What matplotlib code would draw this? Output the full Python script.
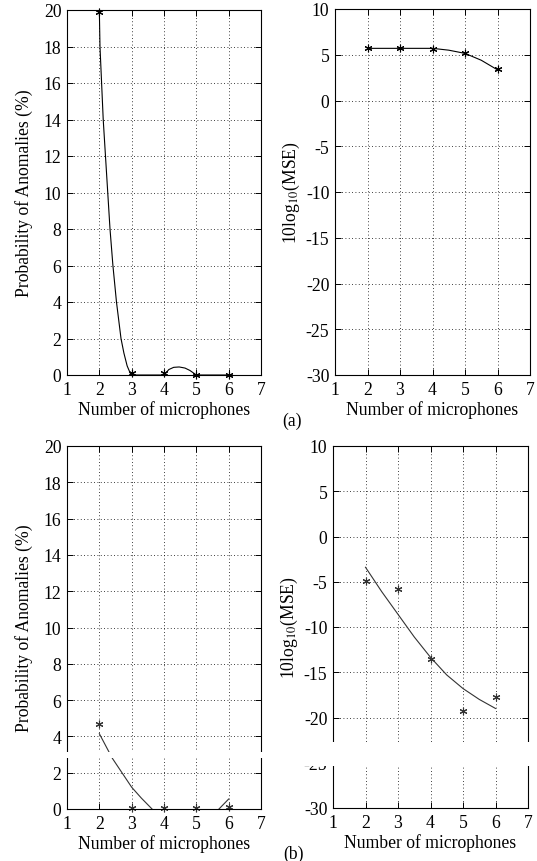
import numpy as np
import matplotlib
matplotlib.use("Agg")
import matplotlib.pyplot as plt
from matplotlib.patches import Rectangle

plt.rcParams["font.family"] = ["Liberation Serif", "DejaVu Serif"]
plt.rcParams["mathtext.fontset"] = "stix"
plt.rcParams["font.size"] = 12.7
plt.rcParams["axes.unicode_minus"] = False

mics = [2, 3, 4, 5, 6]

# (a) measured values
anom_a = [19.9, 0.1, 0.1, 0.0, 0.0]
mse_a = [5.75, 5.75, 5.65, 5.2, 3.4]
# (a) fitted curves
anom_a_fit_x = [2, 2.02, 2.07, 2.12, 2.19, 2.26, 2.33, 2.42, 2.53, 2.67, 2.76, 2.86, 2.98, 3.5, 4,
                4.15, 4.3, 4.47, 4.65, 4.8, 5, 6]
anom_a_fit_y = [20, 18, 16, 14, 12, 10, 8, 6, 4, 2, 1.2, 0.5, 0, 0, 0,
                0.3, 0.42, 0.44, 0.38, 0.25, 0, 0]
mse_a_fit_x = [2, 2.5, 3, 3.5, 4, 4.5, 5, 5.5, 6]
mse_a_fit_y = [5.7, 5.7, 5.7, 5.7, 5.7, 5.5, 5.15, 4.4, 3.35]

# (b) measured values
anom_b = [4.7, 0.05, 0.05, 0.05, 0.1]
mse_b = [-4.9, -5.8, -13.5, -19.3, -17.7]
# (b) fitted curves
anom_b_fit_x = [2, 2.4, 3, 3.3, 3.63, np.nan, 5.7, 6]
anom_b_fit_y = [4.15, 2.8, 1.2, 0.6, 0.0, np.nan, 0.0, 0.55]
mse_b_fit_x = [2, 2.5, 3, 3.5, 4, 4.5, 5, 5.5, 6]
mse_b_fit_y = [-3.4, -6.1, -8.6, -11.1, -13.35, -15.3, -16.8, -18.0, -19.0]

W, H = 537, 862
fig = plt.figure(figsize=(W / 100, H / 100), dpi=100)


def px_axes(l, r, t, b):
    return fig.add_axes([l / W, 1 - b / H, (r - l) / W, (b - t) / H])


def style(ax, ylim, yticks):
    ax.set_xlim(1, 7)
    ax.set_xticks(range(1, 8))
    ax.set_ylim(*ylim)
    ax.set_yticks(yticks)
    ax.grid(True, linestyle=(0, (1, 3)), color="black", linewidth=0.6)
    ax.tick_params(direction="in", top=True, right=True, length=4, width=0.7, pad=4)
    for s in ax.spines.values():
        s.set_linewidth(0.8)
    ax.set_xlabel("Number of microphones", labelpad=2)


ax1 = px_axes(67, 261, 11, 376)
ax2 = px_axes(335, 530, 10, 376)
ax3 = px_axes(67, 261, 447, 810)
ax4 = px_axes(333, 528, 447, 809)

for ax in (ax1, ax3):
    style(ax, (0, 20), range(0, 21, 2))
    ax.set_ylabel("Probability of Anomalies (%)", labelpad=8)
for ax in (ax2, ax4):
    style(ax, (-30, 10), range(-30, 11, 5))
    ax.set_ylabel("10log$_{10}$(MSE)", labelpad=3)

star = dict(marker=(6, 2, 0), linestyle="none", markersize=5.5, markeredgewidth=0.8, clip_on=False)

ax1.plot(anom_a_fit_x, anom_a_fit_y, color="black", linewidth=0.8)
ax1.plot(mics, anom_a, color="black", **star)
ax2.plot(mse_a_fit_x, mse_a_fit_y, color="black", linewidth=0.8)
ax2.plot(mics, mse_a, color="black", **star)
ax3.plot(anom_b_fit_x, anom_b_fit_y, color="#333333", linewidth=0.8)
ax3.plot(mics, anom_b, color="#333333", **star)
ax4.plot(mse_b_fit_x, mse_b_fit_y, color="#333333", linewidth=0.8)
ax4.plot(mics, mse_b, color="#333333", **star)

fig.text(292 / W, 1 - 421 / H, "(a)", ha="center", va="center")
fig.text(293 / W, 1 - 854 / H, "(b)", ha="center", va="center")

# white bands in the lower panels (as in the scanned original)
for l, r, t, b in [(60, 266, 753, 759), (300, 535, 743, 767)]:
    fig.add_artist(Rectangle((l / W, 1 - b / H), (r - l) / W, (b - t) / H,
                             transform=fig.transFigure, facecolor="white",
                             edgecolor="none", zorder=10))

fig.savefig("out.png", dpi=100)
